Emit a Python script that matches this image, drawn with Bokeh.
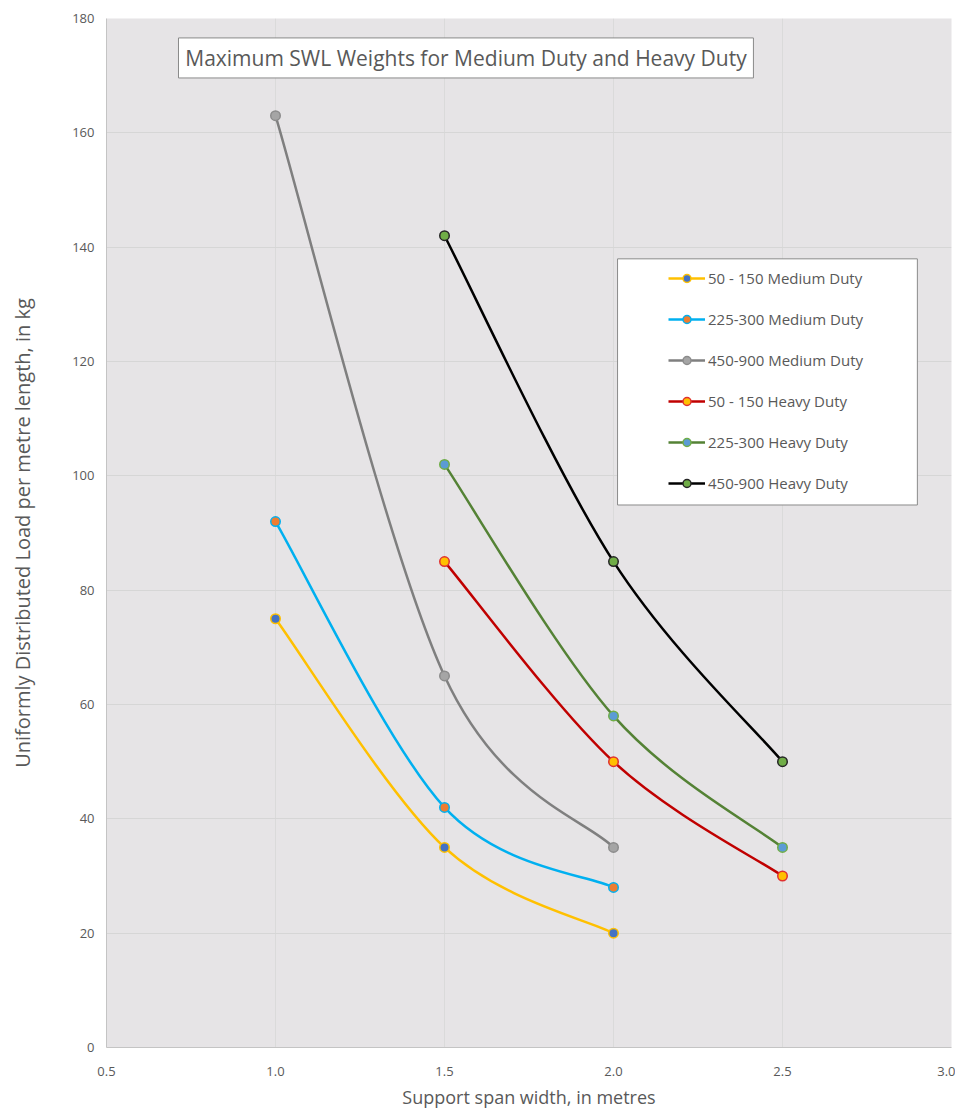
from bokeh.plotting import figure
from bokeh.models import (Range1d, FixedTicker, NumeralTickFormatter, Legend, LegendItem,
                          BoxAnnotation, Label, ColumnDataSource)
from bokeh.embed import file_html
from bokeh.resources import INLINE

# ---- data ----
series_names = ["50 - 150 Medium Duty", "225-300 Medium Duty", "450-900 Medium Duty",
                "50 - 150 Heavy Duty", "225-300 Heavy Duty", "450-900 Heavy Duty"]
medium_x = [1.0, 1.5, 2.0]
heavy_x = [1.5, 2.0, 2.5]
md_50_150 = [75, 35, 20]
md_225_300 = [92, 42, 28]
md_450_900 = [163, 65, 35]
hd_50_150 = [85, 50, 30]
hd_225_300 = [102, 58, 35]
hd_450_900 = [142, 85, 50]
x_ticks = [0.5, 1.0, 1.5, 2.0, 2.5, 3.0]
y_ticks = [0, 20, 40, 60, 80, 100, 120, 140, 160, 180]

# ---- styles ----
line_colors = ["#FFC000", "#00B0F0", "#7F7F7F", "#C00000", "#548235", "#000000"]
fill_colors = ["#4472C4", "#ED7D31", "#A5A5A5", "#FFC000", "#5B9BD5", "#70AD47"]
edge_colors = ["#FFC000", "#00B0F0", "#8C8C8C", "#E03030", "#70AD47", "#262626"]

FONT = "Open Sans"
TXT = "#595959"

p = figure(frame_width=845, frame_height=1029, output_backend="svg", toolbar_location=None,
           x_range=Range1d(0.5, 3.0), y_range=Range1d(0, 180),
           min_border_left=106, min_border_top=18, min_border_right=4, min_border_bottom=20,
           background_fill_color="#e6e4e6", border_fill_color="white")
p.outline_line_color = None

p.xaxis.ticker = FixedTicker(ticks=x_ticks)
p.yaxis.ticker = FixedTicker(ticks=y_ticks)
p.xaxis.formatter = NumeralTickFormatter(format="0.0")
for ax in (p.xaxis, p.yaxis):
    ax.major_tick_out = 0
    ax.major_tick_in = 0
    ax.minor_tick_out = 0
    ax.minor_tick_in = 0
    ax.axis_line_color = "#c4c4c4"
    ax.major_label_text_color = TXT
    ax.major_label_text_font = FONT
    ax.major_label_text_font_size = "13px"
    ax.axis_label_text_color = TXT
    ax.axis_label_text_font = FONT
    ax.axis_label_text_font_style = "normal"
p.xaxis.axis_label_text_font_size = "18px"
p.yaxis.axis_label_text_font_size = "20px"
p.xaxis.major_label_standoff = 19
p.yaxis.major_label_standoff = 12
p.xaxis.axis_label_standoff = 6
p.yaxis.axis_label_standoff = 33
p.xaxis.axis_label = "Support span width, in metres"
p.yaxis.axis_label = "Uniformly Distributed Load per metre length, in kg"
p.xgrid.grid_line_color = "#dadada"
p.ygrid.grid_line_color = "#d6d6d6"


def smooth_segments(xs, ys):
    n = len(xs)
    x0, y0, x1, y1, cx0, cy0, cx1, cy1 = [], [], [], [], [], [], [], []
    for i in range(n - 1):
        im1 = max(i - 1, 0)
        ip2 = min(i + 2, n - 1)
        x0.append(xs[i]); y0.append(ys[i])
        x1.append(xs[i + 1]); y1.append(ys[i + 1])
        cx0.append(xs[i] + (xs[i + 1] - xs[im1]) / 6.0)
        cy0.append(ys[i] + (ys[i + 1] - ys[im1]) / 6.0)
        cx1.append(xs[i + 1] - (xs[ip2] - xs[i]) / 6.0)
        cy1.append(ys[i + 1] - (ys[ip2] - ys[i]) / 6.0)
    return dict(x0=x0, y0=y0, x1=x1, y1=y1, cx0=cx0, cy0=cy0, cx1=cx1, cy1=cy1)


all_series = [(medium_x, md_50_150), (medium_x, md_225_300), (medium_x, md_450_900),
              (heavy_x, hd_50_150), (heavy_x, hd_225_300), (heavy_x, hd_450_900)]

items = []
for k, (xs, ys) in enumerate(all_series):
    seg = ColumnDataSource(smooth_segments(xs, ys))
    r_line = p.bezier(x0="x0", y0="y0", x1="x1", y1="y1", cx0="cx0", cy0="cy0",
                      cx1="cx1", cy1="cy1", source=seg, line_color=line_colors[k], line_width=2.5)
    r_pts = p.scatter(xs, ys, size=9.5, fill_color=fill_colors[k], line_color=edge_colors[k],
                      line_width=1.5)
    items.append(LegendItem(label=series_names[k], renderers=[r_line, r_pts]))

# legend frame
legend_box = BoxAnnotation(left=2.012, right=2.899, top=137.96, bottom=94.9,
                           fill_color="white", fill_alpha=1.0,
                           line_color="#8a8a8a", line_width=1, line_alpha=1.0)
p.add_layout(legend_box)

legend = Legend(items=items, location=(562, 554), background_fill_alpha=0,
                border_line_color=None, padding=10, spacing=21, label_height=20,
                glyph_height=20, glyph_width=37, label_standoff=3,
                label_text_font_size="15px", label_text_color=TXT, label_text_font=FONT)
p.add_layout(legend)

# title box
title_box = BoxAnnotation(left=0.713, right=2.414, top=176.6, bottom=169.6,
                          fill_color="white", fill_alpha=1.0,
                          line_color="#8a8a8a", line_width=1, line_alpha=1.0)
p.add_layout(title_box)
title = Label(x=1.5635, y=173.1, text="Maximum SWL Weights for Medium Duty and Heavy Duty",
              text_align="center", text_baseline="middle", text_font=FONT,
              text_font_size="21px", text_color=TXT)
p.add_layout(title)

open("out.html", "w").write(file_html(p, INLINE))
